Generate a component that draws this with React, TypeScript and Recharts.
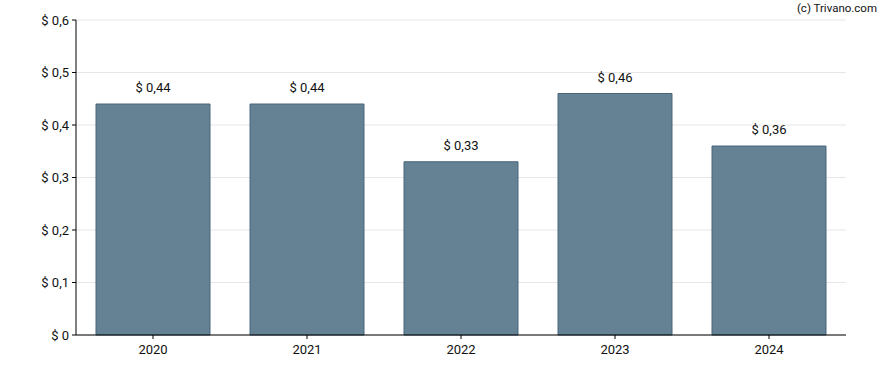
import React from 'react';
import { BarChart, Bar, XAxis, YAxis, CartesianGrid, LabelList } from 'recharts';

const years = ['2020', '2021', '2022', '2023', '2024'];
const dividends = [0.44, 0.44, 0.33, 0.46, 0.36];
const yTicks = [0, 0.1, 0.2, 0.3, 0.4, 0.5, 0.6];

const data = years.map((year, i) => ({ year, value: dividends[i] }));

const fmt = (v: number) => (v === 0 ? '$ 0' : '$ ' + String(v).replace('.', ','));

const App: React.FC = () => {
    return (
        <div style={{ position: 'absolute', left: 0, top: 0, width: 888, height: 370, fontFamily: 'Roboto, sans-serif' }}>
            <BarChart
                width={888}
                height={370}
                data={data}
                margin={{ top: 20, right: 42, left: 0, bottom: 5 }}
                barCategoryGap={20}
            >
                <CartesianGrid vertical={false} stroke="#e6e6e6" />
                <XAxis
                    dataKey="year"
                    height={30}
                    stroke="#000"
                    tickSize={4}
                    tickMargin={6}
                    tick={{ fontSize: 13, fill: '#111' }}
                />
                <YAxis
                    width={76}
                    domain={[0, 0.6]}
                    ticks={yTicks}
                    stroke="#000"
                    tickSize={4}
                    tickMargin={3}
                    tickFormatter={fmt}
                    tick={{ fontSize: 13, fill: '#111' }}
                />
                <Bar dataKey="value" fill="#658294" stroke="#48667a" strokeWidth={1} isAnimationActive={false}>
                    <LabelList
                        dataKey="value"
                        position="top"
                        offset={12}
                        formatter={(v: any) => fmt(Number(v))}
                        style={{ fontSize: 13, fill: '#111' }}
                    />
                </Bar>
                <text x={877} y={12} textAnchor="end" fontSize={11.5} fill="#111">
                    (c) Trivano.com
                </text>
            </BarChart>
        </div>
    );
};

export default App;
